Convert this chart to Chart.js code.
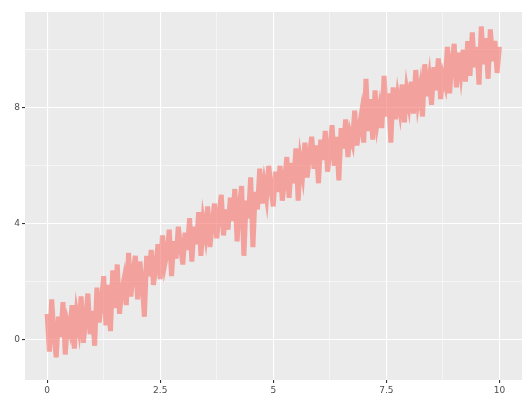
<!DOCTYPE html><html><head><meta charset="utf-8">
<script src="https://cdn.jsdelivr.net/npm/chart.js@4"></script>
<style>html,body{margin:0;background:#fff}#w{width:530px;height:409px}</style></head><body><div id="w"><canvas id="c"></canvas></div>
<script>
const yValues=[0.9,-0.4,1.4,0.2,-0.6,0.8,0.1,1.3,-0.5,0.6,0.3,1.2,-0.3,0.9,0.4,1.5,-0.1,0.7,1.6,0.2,
1.0,-0.2,1.8,0.6,1.3,2.2,0.5,1.9,0.3,2.4,1.1,2.6,0.9,1.7,2.1,1.2,3.0,1.5,2.3,2.9,
1.4,2.7,2.0,0.8,2.9,2.2,3.1,1.9,2.5,3.3,2.1,3.6,2.6,3.0,3.8,2.2,3.4,2.8,3.9,3.2,
2.6,3.7,3.1,4.2,2.7,3.9,3.3,4.4,2.9,4.1,3.6,4.6,3.2,4.0,4.7,3.5,4.3,5.0,3.6,4.5,
3.8,4.9,4.1,5.2,3.4,4.6,5.3,2.9,4.8,4.2,5.6,3.2,5.1,4.5,5.9,4.7,5.4,4.9,6.0,5.2,
4.6,5.8,5.1,6.0,4.8,5.5,6.3,4.9,6.1,5.4,6.6,4.8,6.2,5.7,6.8,5.6,6.4,7.0,5.9,6.7,
5.4,6.9,6.2,7.2,5.8,6.5,7.4,6.0,7.0,5.5,7.3,6.6,7.6,6.3,7.1,6.8,7.9,6.7,7.3,7.8,
6.8,9.0,7.2,8.3,6.9,8.6,7.5,8.0,7.3,9.1,7.7,8.5,6.8,8.7,7.6,8.4,7.9,8.8,7.5,8.6,
8.1,8.9,7.8,9.3,8.2,8.7,7.7,9.5,8.4,9.0,8.1,9.4,8.6,9.7,8.3,9.1,8.8,10.1,8.5,9.6,
10.2,8.7,9.9,9.2,10.0,8.9,10.3,9.1,10.6,9.4,10.1,8.8,10.8,9.5,10.4,9.0,10.7,9.6,10.3,9.2,10.1];
const xStep=0.05;
const xTicks=[0,1.25,2.5,3.75,5,6.25,7.5,8.75,10];
const xLabels={0:'0',2.5:'2.5',5:'5',7.5:'7.5',10:'10'};
const yTicks=[-2,0,2,4,6,8,10];
const yLabels={0:'0',4:'4',8:'8'};
const pts=yValues.map((y,i)=>({x:+(i*xStep).toFixed(2),y}));
const bg={id:'bg',beforeDraw(c){const a=c.chartArea,g=c.ctx;g.save();g.fillStyle='#ebebeb';g.fillRect(a.left,a.top,a.right-a.left,a.bottom-a.top);g.restore();}};
const major=(m,v)=>m[v]!==undefined;
new Chart(document.getElementById('c'),{type:'line',data:{datasets:[{data:pts,borderColor:'rgba(246,112,104,0.6)',borderWidth:5,pointRadius:0,tension:0,borderJoinStyle:'miter'}]},
options:{animation:false,responsive:true,maintainAspectRatio:false,layout:{padding:{top:12,right:8,left:0,bottom:0}},
plugins:{legend:{display:false},tooltip:{enabled:false}},
scales:{
x:{type:'linear',min:-0.49,max:10.5,afterBuildTicks:s=>{s.ticks=xTicks.map(v=>({value:v}))},afterFit:s=>{s.height=29},
 border:{display:false},grid:{color:'#fff',lineWidth:c=>major(xLabels,c.tick.value)?1.1:0.5,tickLength:3,tickColor:c=>major(xLabels,c.tick.value)?'#333':'rgba(0,0,0,0)'},
 ticks:{autoSkip:false,maxRotation:0,padding:2,color:'#4d4d4d',font:{family:'DejaVu Sans',size:9},callback:v=>xLabels[v]??''}},
y:{type:'linear',min:-1.38,max:11.3,afterBuildTicks:s=>{s.ticks=yTicks.map(v=>({value:v}))},afterFit:s=>{s.width=25},
 border:{display:false},grid:{color:'#fff',lineWidth:c=>major(yLabels,c.tick.value)?1.1:0.5,tickLength:3,tickColor:c=>major(yLabels,c.tick.value)?'#333':'rgba(0,0,0,0)'},
 ticks:{autoSkip:false,padding:2,color:'#4d4d4d',font:{family:'DejaVu Sans',size:9},callback:v=>yLabels[v]??''}}}},plugins:[bg]});
</script></body></html>
